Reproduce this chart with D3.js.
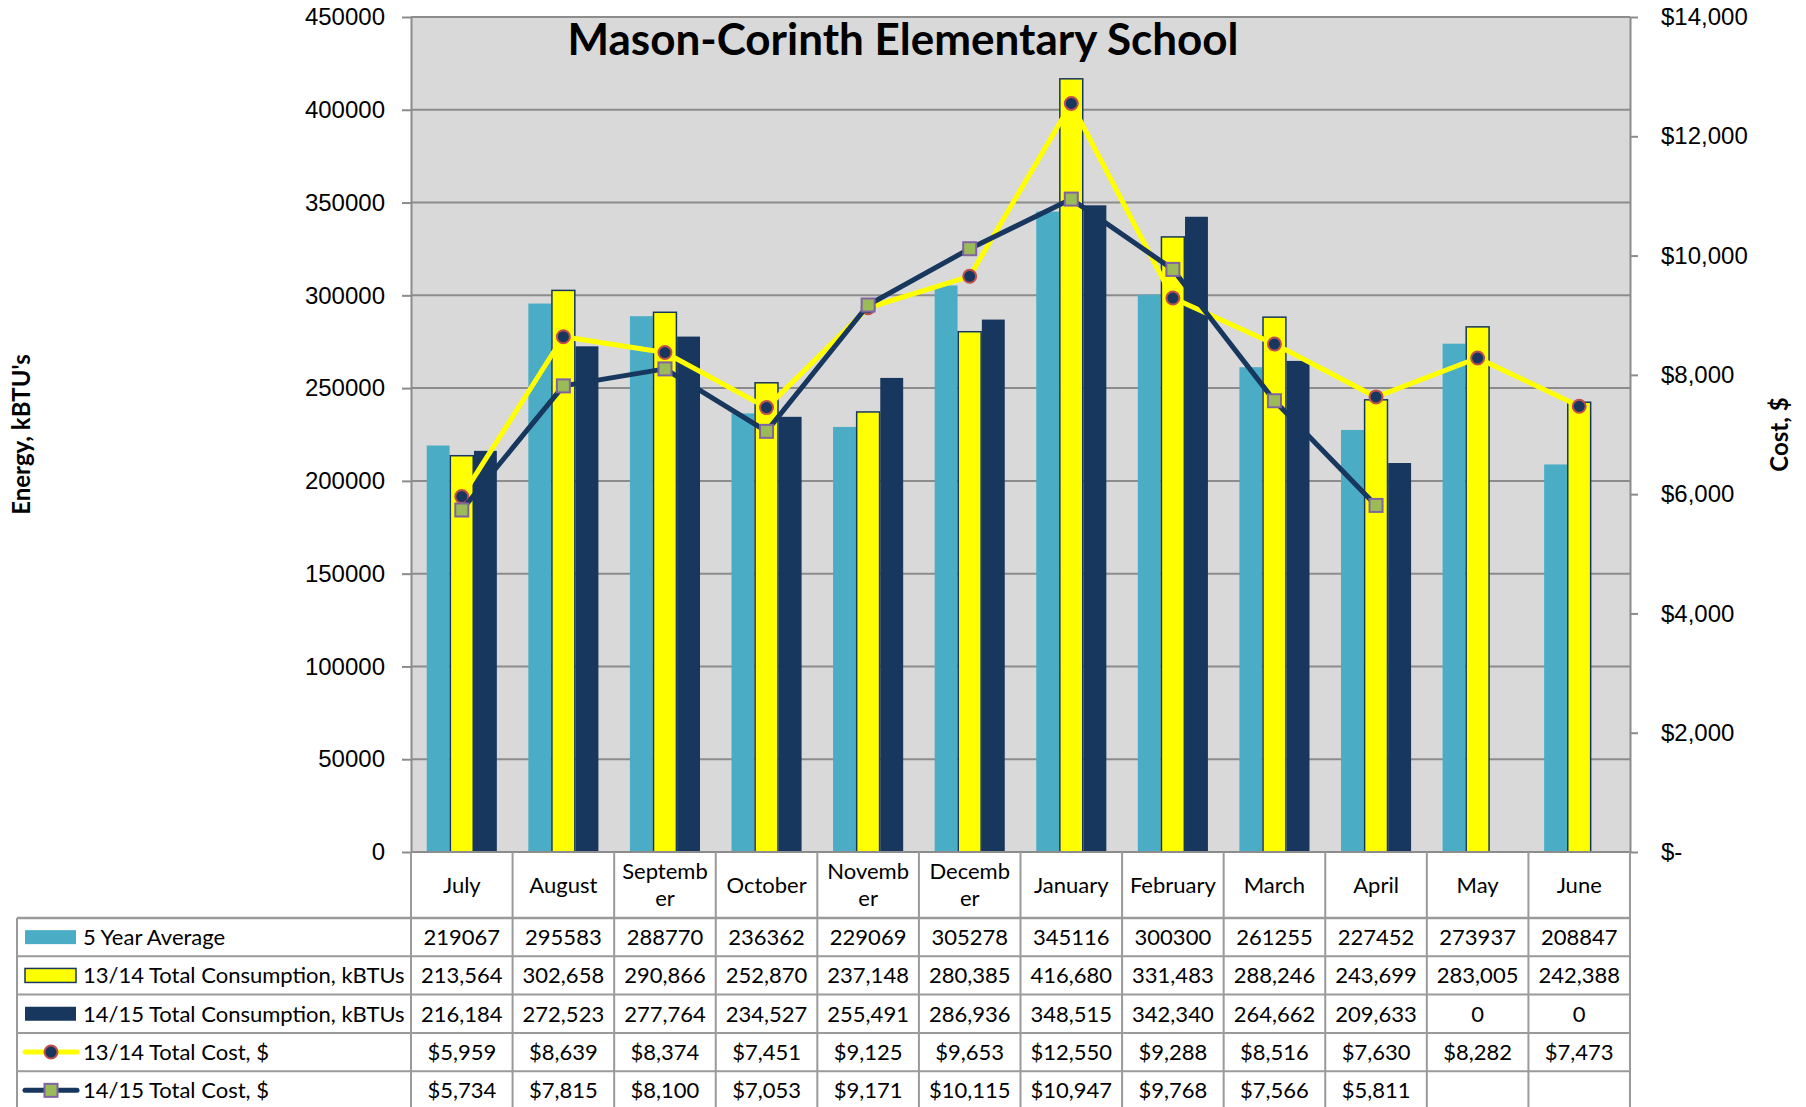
<!DOCTYPE html>
<html>
<head>
  <meta charset="UTF-8">
  <style>
    body { margin: 0; background: #fff; }
    svg { display: block; font-family: Lato, "Open Sans", sans-serif; }
  </style>
</head>
<body>
<svg></svg>
<script src="https://cdn.jsdelivr.net/npm/d3@7"></script>

<script>

let width = 1806, height = 1107;

let months = ["July", "August", "September", "October", "November", "December",
              "January", "February", "March", "April", "May", "June"];
let monthLabels = ["July", "August", "Septemb\ner", "October", "Novemb\ner", "Decemb\ner",
                   "January", "February", "March", "April", "May", "June"];

let avg5yr   = [219067, 295583, 288770, 236362, 229069, 305278, 345116, 300300, 261255, 227452, 273937, 208847];
let use1314  = [213564, 302658, 290866, 252870, 237148, 280385, 416680, 331483, 288246, 243699, 283005, 242388];
let use1415  = [216184, 272523, 277764, 234527, 255491, 286936, 348515, 342340, 264662, 209633, 0, 0];
let cost1314 = [5959, 8639, 8374, 7451, 9125, 9653, 12550, 9288, 8516, 7630, 8282, 7473];
let cost1415 = [5734, 7815, 8100, 7053, 9171, 10115, 10947, 9768, 7566, 5811, null, null];

let energyTicks = [0, 50000, 100000, 150000, 200000, 250000, 300000, 350000, 400000, 450000];
let costTicks = [0, 2000, 4000, 6000, 8000, 10000, 12000, 14000];

let seriesNames = ["5 Year Average", "13/14 Total Consumption, kBTUs", "14/15 Total Consumption, kBTUs",
                   "13/14 Total Cost, $", "14/15 Total Cost, $"];

let cyan = "#4BACC6", yellow = "#FFFF00", navy = "#17375E";
let gridGray = "#8c8c8c", tableGray = "#9a9a9a";

let bars = [
    {name: seriesNames[0], values: avg5yr, fill: cyan, stroke: "none"},
    {name: seriesNames[1], values: use1314, fill: yellow, stroke: navy},
    {name: seriesNames[2], values: use1415, fill: navy, stroke: "none"}
];
let lines = [
    {name: seriesNames[3], values: cost1314, color: yellow, marker: "circle"},
    {name: seriesNames[4], values: cost1415, color: navy, marker: "square"}
];

let fmtPlain = d3.format("d"), fmtComma = d3.format(","), fmtCost = d3.format("$,");
let tableRows = [
    {key: "bar", s: bars[0], text: avg5yr.map(fmtPlain)},
    {key: "bar", s: bars[1], text: use1314.map(fmtComma)},
    {key: "bar", s: bars[2], text: use1415.map(fmtComma)},
    {key: "line", s: lines[0], text: cost1314.map(d => d == null ? "" : fmtCost(d))},
    {key: "line", s: lines[1], text: cost1415.map(d => d == null ? "" : fmtCost(d))}
];

let svg = d3.select("svg")
    .attr("width", width)
    .attr("height", height)
    .attr("viewBox", "0 0 " + width + " " + height);

let plot = {left: 411, right: 1630, top: 17, bottom: 852};

let x = d3.scaleBand().domain(months).range([plot.left, plot.right]);
let bw = x.bandwidth();
let xInner = d3.scaleBand().domain([0, 1, 2]).range([bw * 0.155, bw * 0.845]).paddingInner(0.03);
let yEnergy = d3.scaleLinear().domain([0, 450000]).range([plot.bottom, plot.top]);
let yCost = d3.scaleLinear().domain([0, 14000]).range([plot.bottom, plot.top]);

// plot background
svg.append("rect")
    .attr("x", plot.left)
    .attr("y", plot.top)
    .attr("width", plot.right - plot.left)
    .attr("height", plot.bottom - plot.top)
    .attr("fill", "#D9D9D9");

// gridlines
svg.append("g")
    .selectAll("line")
    .data(energyTicks.filter(d => d > 0))
    .enter()
    .append("line")
    .attr("x1", plot.left)
    .attr("x2", plot.right)
    .attr("y1", d => yEnergy(d))
    .attr("y2", d => yEnergy(d))
    .attr("stroke", gridGray)
    .attr("stroke-width", 2);

// bars
let barLayer = svg.append("g");
bars.forEach((s, si) => {
    barLayer.append("g")
        .selectAll("rect")
        .data(s.values.map((v, i) => ({month: months[i], v: v})))
        .enter()
        .append("rect")
        .attr("x", d => x(d.month) + xInner(si))
        .attr("y", d => yEnergy(d.v))
        .attr("width", xInner.bandwidth())
        .attr("height", d => yEnergy(0) - yEnergy(d.v))
        .attr("fill", s.fill)
        .attr("stroke", d => d.v > 0 ? s.stroke : "none")
        .attr("stroke-width", 1.5);
});

// axes
let axisLeft = svg.append("g")
    .attr("transform", "translate(" + plot.left + ",0)")
    .call(d3.axisLeft(yEnergy).tickValues(energyTicks).tickFormat(fmtPlain)
        .tickSize(9).tickSizeOuter(0).tickPadding(17));

let axisRight = svg.append("g")
    .attr("transform", "translate(" + plot.right + ",0)")
    .call(d3.axisRight(yCost).tickValues(costTicks)
        .tickFormat(d => d === 0 ? "$-" : fmtCost(d))
        .tickSize(8).tickSizeOuter(0).tickPadding(23));

[axisLeft, axisRight].forEach(a => {
    a.selectAll("path, line").attr("stroke", gridGray).attr("stroke-width", 2);
    a.selectAll("text").attr("font-size", "24px").attr("fill", "#000").attr("font-family", null);
});

// category baseline
svg.append("line")
    .attr("x1", plot.left)
    .attr("x2", plot.right)
    .attr("y1", plot.bottom)
    .attr("y2", plot.bottom)
    .attr("stroke", gridGray)
    .attr("stroke-width", 2);

// cost lines with markers
let line = d3.line()
    .defined(d => d != null)
    .x((d, i) => x(months[i]) + bw / 2)
    .y(d => yCost(d));

lines.forEach(s => {
    svg.append("path")
        .datum(s.values)
        .attr("fill", "none")
        .attr("stroke", s.color)
        .attr("stroke-width", 5)
        .attr("stroke-linejoin", "round")
        .attr("d", line);

    let pts = s.values.map((v, i) => ({month: months[i], v: v})).filter(d => d.v != null);
    if (s.marker == "circle") {
        svg.append("g").selectAll("circle")
            .data(pts)
            .enter()
            .append("circle")
            .attr("cx", d => x(d.month) + bw / 2)
            .attr("cy", d => yCost(d.v))
            .attr("r", 6.5)
            .attr("fill", navy)
            .attr("stroke", "#C0504D")
            .attr("stroke-width", 2);
    } else {
        svg.append("g").selectAll("rect")
            .data(pts)
            .enter()
            .append("rect")
            .attr("x", d => x(d.month) + bw / 2 - 6.5)
            .attr("y", d => yCost(d.v) - 6.5)
            .attr("width", 13)
            .attr("height", 13)
            .attr("fill", "#9BBB59")
            .attr("stroke", "#8064A2")
            .attr("stroke-width", 2);
    }
});

// title
svg.append("text")
    .attr("x", 903)
    .attr("y", 55)
    .attr("text-anchor", "middle")
    .attr("font-size", "44px")
    .attr("font-weight", "bold")
    .text("Mason-Corinth Elementary School");

// axis titles
svg.append("text")
    .attr("transform", "translate(30," + (plot.top + plot.bottom) / 2 + ") rotate(-90)")
    .attr("text-anchor", "middle")
    .attr("font-size", "24px")
    .attr("font-weight", "bold")
    .text("Energy, kBTU's");

svg.append("text")
    .attr("transform", "translate(1788," + (plot.top + plot.bottom) / 2 + ") rotate(-90)")
    .attr("text-anchor", "middle")
    .attr("font-size", "24px")
    .attr("font-weight", "bold")
    .text("Cost, $");

// data table
let headTop = plot.bottom, headBottom = 918, rowH = 38.3, tableLeft = 17;
let rowTop = i => headBottom + i * rowH;
let table = svg.append("g").attr("font-size", "22px");

// month header text
monthLabels.forEach((lbl, i) => {
    let parts = lbl.split("\n");
    let cx = x(months[i]) + bw / 2;
    let t = table.append("text")
        .attr("text-anchor", "middle");
    if (parts.length == 1) {
        t.append("tspan").attr("x", cx).attr("y", 893).text(parts[0]);
    } else {
        t.append("tspan").attr("x", cx).attr("y", 879).text(parts[0]);
        t.append("tspan").attr("x", cx).attr("y", 906).text(parts[1]);
    }
});

// row values and legend keys
tableRows.forEach((r, ri) => {
    let cy = rowTop(ri) + rowH / 2;
    r.text.forEach((txt, i) => {
        table.append("text")
            .attr("x", x(months[i]) + bw / 2)
            .attr("y", cy + 8)
            .attr("text-anchor", "middle")
            .text(txt);
    });

    if (r.key == "bar") {
        table.append("rect")
            .attr("x", 25)
            .attr("y", cy - 7)
            .attr("width", 51)
            .attr("height", 14)
            .attr("fill", r.s.fill)
            .attr("stroke", r.s.stroke)
            .attr("stroke-width", 1.5);
    } else {
        table.append("line")
            .attr("x1", 25)
            .attr("x2", 77)
            .attr("y1", cy)
            .attr("y2", cy)
            .attr("stroke", r.s.color)
            .attr("stroke-width", 5)
            .attr("stroke-linecap", "round");
        if (r.s.marker == "circle") {
            table.append("circle")
                .attr("cx", 51).attr("cy", cy).attr("r", 6.5)
                .attr("fill", navy).attr("stroke", "#C0504D").attr("stroke-width", 2);
        } else {
            table.append("rect")
                .attr("x", 44.5).attr("y", cy - 6.5).attr("width", 13).attr("height", 13)
                .attr("fill", "#9BBB59").attr("stroke", "#8064A2").attr("stroke-width", 2);
        }
    }
    table.append("text")
        .attr("x", 83)
        .attr("y", cy + 8)
        .text(r.s.name);
});

// table grid
let bounds = months.map(m => x(m)).concat([plot.right]);
table.append("g")
    .selectAll("line")
    .data(bounds)
    .enter()
    .append("line")
    .attr("x1", d => d)
    .attr("x2", d => d)
    .attr("y1", headTop)
    .attr("y2", height)
    .attr("stroke", tableGray)
    .attr("stroke-width", 2);

table.append("g")
    .selectAll("line")
    .data(d3.range(tableRows.length))
    .enter()
    .append("line")
    .attr("x1", tableLeft)
    .attr("x2", plot.right)
    .attr("y1", d => rowTop(d))
    .attr("y2", d => rowTop(d))
    .attr("stroke", tableGray)
    .attr("stroke-width", d => d == 0 ? 2.5 : 2);

table.append("line")
    .attr("x1", tableLeft)
    .attr("x2", tableLeft)
    .attr("y1", headBottom)
    .attr("y2", height)
    .attr("stroke", tableGray)
    .attr("stroke-width", 2);

</script>

</body>
</html>
